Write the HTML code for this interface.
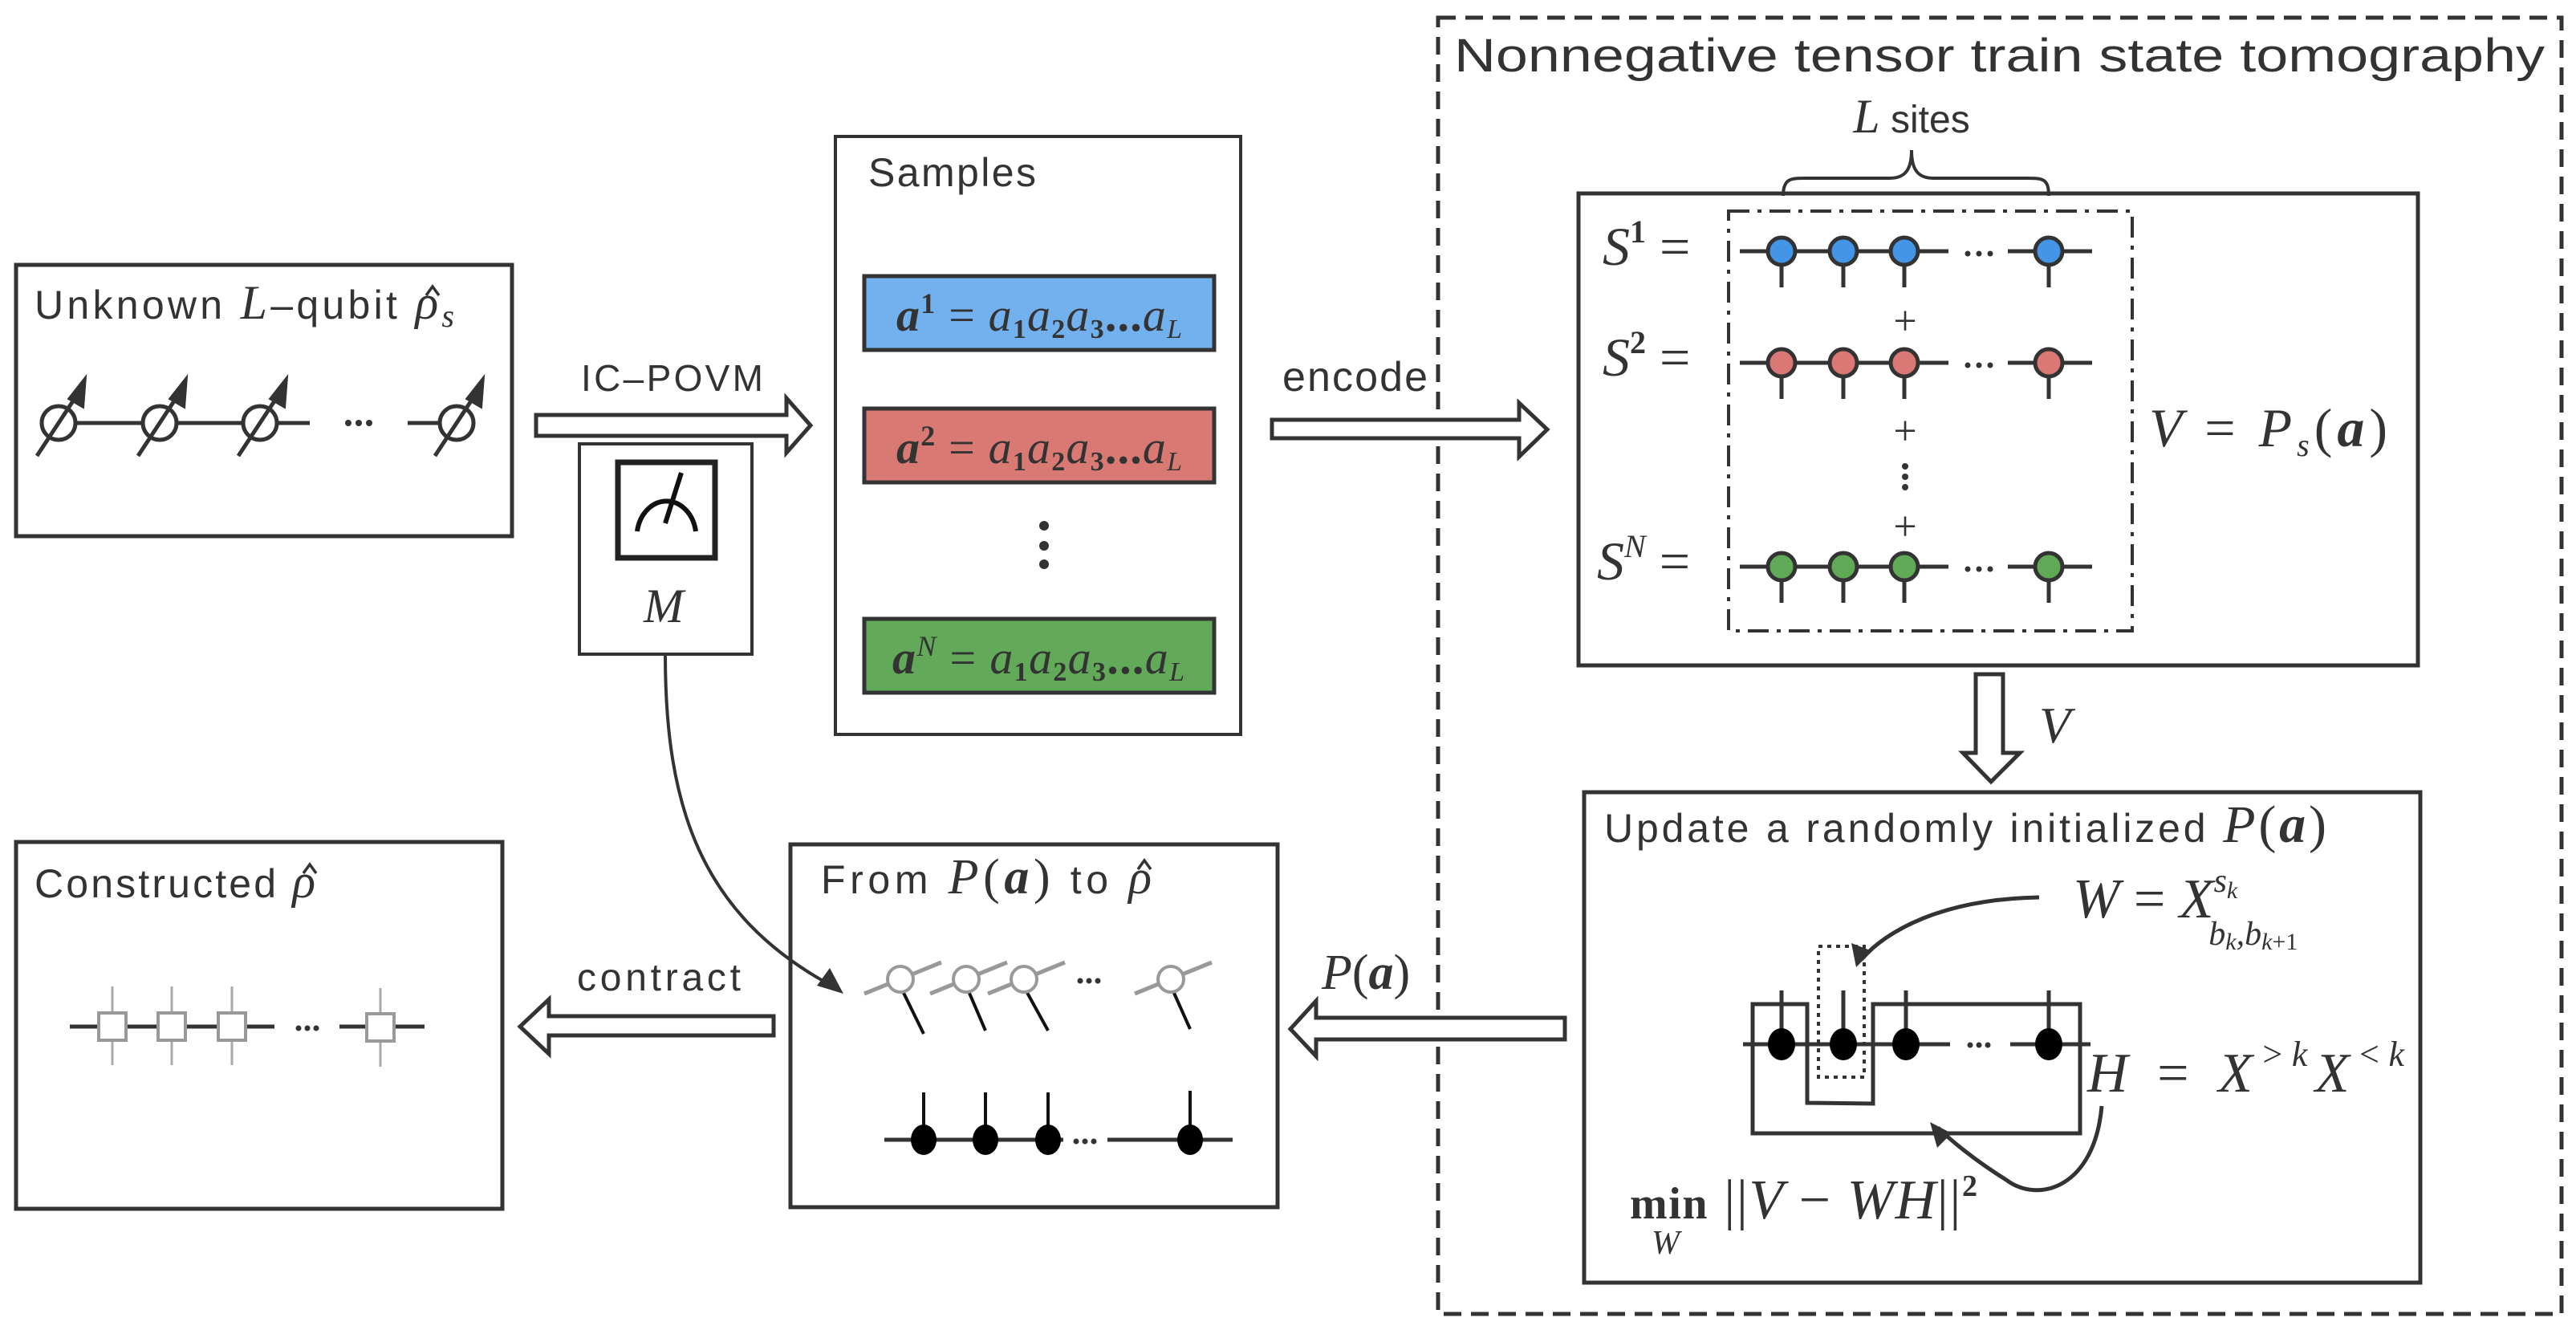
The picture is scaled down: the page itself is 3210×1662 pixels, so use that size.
<!DOCTYPE html>
<html><head><meta charset="utf-8"><style>
html,body{margin:0;padding:0;background:#fff;}
svg{display:block;}
.t{font-family:"Liberation Sans",sans-serif;fill:#333;}
.m{font-family:"Liberation Serif",serif;font-style:italic;fill:#333;}
.r{font-family:"Liberation Serif",serif;fill:#333;}
</style></head><body>
<svg width="3210" height="1662" viewBox="0 0 3210 1662" xmlns="http://www.w3.org/2000/svg">
<g fill="none" stroke="#333" stroke-width="5">
<rect x="1792" y="22" width="1400" height="1615" stroke-dasharray="22,12" stroke-width="5"/>
<rect x="20" y="330" width="618" height="338"/>
<rect x="722" y="553" width="215" height="262" stroke-width="4"/>
<rect x="1041" y="170" width="505" height="745" stroke-width="4"/>
<rect x="1967" y="241" width="1046" height="588"/>
<rect x="1974" y="987" width="1042" height="611"/>
<rect x="20" y="1049" width="606" height="457"/>
<rect x="985" y="1052" width="607" height="452"/>
<rect x="2154" y="263" width="503" height="523" stroke-width="4" stroke-dasharray="26,10,5,10"/>
</g>
<rect x="1077" y="344" width="436" height="92" fill="#72b0ee" stroke="#333" stroke-width="5"/>
<rect x="1077" y="509" width="436" height="92" fill="#d87a73" stroke="#333" stroke-width="5"/>
<rect x="1077" y="771" width="436" height="92" fill="#62aa5a" stroke="#333" stroke-width="5"/>
<g font-size="58">
<text x="1117" y="412" class="r" textLength="356" lengthAdjust="spacing"><tspan font-weight="bold" font-style="italic">a</tspan><tspan font-size="36" dy="-22" font-weight="bold">1</tspan><tspan dy="22"> = </tspan><tspan font-style="italic">a</tspan><tspan font-size="34" dy="9" font-weight="bold">1</tspan><tspan dy="-9" font-style="italic">a</tspan><tspan font-size="34" dy="9" font-weight="bold">2</tspan><tspan dy="-9" font-style="italic">a</tspan><tspan font-size="34" dy="9" font-weight="bold">3</tspan><tspan dy="-9" font-weight="bold">...</tspan><tspan font-style="italic">a</tspan><tspan font-size="34" dy="9" font-style="italic">L</tspan></text>
<text x="1117" y="577" class="r" textLength="356" lengthAdjust="spacing"><tspan font-weight="bold" font-style="italic">a</tspan><tspan font-size="36" dy="-22" font-weight="bold">2</tspan><tspan dy="22"> = </tspan><tspan font-style="italic">a</tspan><tspan font-size="34" dy="9" font-weight="bold">1</tspan><tspan dy="-9" font-style="italic">a</tspan><tspan font-size="34" dy="9" font-weight="bold">2</tspan><tspan dy="-9" font-style="italic">a</tspan><tspan font-size="34" dy="9" font-weight="bold">3</tspan><tspan dy="-9" font-weight="bold">...</tspan><tspan font-style="italic">a</tspan><tspan font-size="34" dy="9" font-style="italic">L</tspan></text>
<text x="1112" y="839" class="r" textLength="364" lengthAdjust="spacing"><tspan font-weight="bold" font-style="italic">a</tspan><tspan font-size="36" dy="-22" font-style="italic">N</tspan><tspan dy="22"> = </tspan><tspan font-style="italic">a</tspan><tspan font-size="34" dy="9" font-weight="bold">1</tspan><tspan dy="-9" font-style="italic">a</tspan><tspan font-size="34" dy="9" font-weight="bold">2</tspan><tspan dy="-9" font-style="italic">a</tspan><tspan font-size="34" dy="9" font-weight="bold">3</tspan><tspan dy="-9" font-weight="bold">...</tspan><tspan font-style="italic">a</tspan><tspan font-size="34" dy="9" font-style="italic">L</tspan></text>
</g>
<g fill="#333"><circle cx="1301" cy="655" r="6"/><circle cx="1301" cy="680" r="6"/><circle cx="1301" cy="703" r="6"/></g>

<!-- titles -->
<text x="1812" y="89" class="t" font-size="58" textLength="1359" lengthAdjust="spacingAndGlyphs">Nonnegative tensor train state tomography</text>
<text x="43" y="397" class="t" font-size="50" textLength="523" lengthAdjust="spacing">Unknown <tspan class="m" font-size="60">L</tspan>–qubit <tspan class="m" font-size="60">ρ</tspan><tspan class="m" font-size="40" dy="10">s</tspan></text>
<text x="1082" y="232" class="t" font-size="50" textLength="209" lengthAdjust="spacing">Samples</text>
<text x="43" y="1118" class="t" font-size="50" textLength="350" lengthAdjust="spacing">Constructed <tspan class="m" font-size="60">ρ</tspan></text>
<text x="1023" y="1113" class="t" font-size="50" textLength="412" lengthAdjust="spacing">From <tspan class="m" font-size="62">P</tspan><tspan class="r" font-size="62">(</tspan><tspan class="r" font-size="62" font-weight="bold" font-style="italic">a</tspan><tspan class="r" font-size="62">)</tspan> to <tspan class="m" font-size="60">ρ</tspan></text>
<text x="1999" y="1049" class="t" font-size="50" textLength="900" lengthAdjust="spacing">Update a randomly initialized <tspan class="m" font-size="66">P</tspan><tspan class="r" font-size="66">(</tspan><tspan class="r" font-size="66" font-weight="bold" font-style="italic">a</tspan><tspan class="r" font-size="66">)</tspan></text>
<text x="2382" y="165" class="t" font-size="48" text-anchor="middle"><tspan class="m" font-size="60">L</tspan> sites</text>
<!-- hats -->
<g fill="none" stroke="#333" stroke-width="3.5">
<path d="M531,368 L539,357 L547,368"/>
<path d="M378,1088 L386,1077 L394,1088"/>
<path d="M1418,1083 L1426,1072 L1434,1083"/>
</g>

<text x="724" y="487" class="t" font-size="46" textLength="227">IC–POVM</text>
<text x="1598" y="487" class="t" font-size="52" textLength="181">encode</text>
<text x="719" y="1234" class="t" font-size="48" textLength="204">contract</text>
<text x="1647" y="1232" class="m" font-size="62">P<tspan class="r" font-style="normal">(</tspan><tspan font-weight="bold">a</tspan><tspan class="r" font-style="normal">)</tspan></text>
<text x="2541" y="925" class="m" font-size="64">V</text>
<text x="827" y="775" class="m" font-size="60" text-anchor="middle">M</text>

<g fill="#fff" stroke="#333" stroke-width="5" stroke-linejoin="miter">
<path d="M668,517 L980,517 L980,496 L1010,530 L980,564 L980,543 L668,543 Z"/>
<path d="M1585,523 L1893,523 L1893,502 L1928,535 L1893,569 L1893,546 L1585,546 Z"/>
<path d="M2462,840 L2496,840 L2496,938 L2517,938 L2481,974 L2446,938 L2462,938 Z"/>
<path d="M1950,1268 L1950,1295 L1640,1295 L1640,1316 L1608,1282 L1640,1247 L1640,1268 Z"/>
<path d="M964,1266 L964,1290 L684,1290 L684,1313 L648,1279 L684,1245 L684,1266 Z"/>
</g>

<rect x="770" y="576" width="121" height="119" fill="none" stroke="#222" stroke-width="7"/>
<path d="M794,662 A37,45 0 0 1 867,662" fill="none" stroke="#111" stroke-width="6"/>
<line x1="829" y1="652" x2="849" y2="589" stroke="#111" stroke-width="6"/>

<path d="M829,815 C829,1000 870,1140 1040,1230" fill="none" stroke="#333" stroke-width="4"/>
<path d="M1051,1238 L1018,1228 L1034,1206 Z" fill="#333"/>

<g stroke="#333" stroke-width="5" fill="none">
<line x1="73" y1="527" x2="386" y2="527"/>
<line x1="508" y1="527" x2="560" y2="527"/>
</g>
<g fill="#333"><circle cx="434" cy="527" r="4"/><circle cx="447" cy="527" r="4"/><circle cx="460" cy="527" r="4"/></g>
<g id="spin" stroke="#333" stroke-width="5">
<circle cx="73" cy="527" r="21" fill="#fff"/>
<line x1="46" y1="568" x2="96" y2="492"/>
<path d="M107,469 L85,497 L104,508 Z" fill="#333" stroke-width="2"/>
</g>
<use href="#spin" x="126"/><use href="#spin" x="251"/><use href="#spin" x="496"/>

<g font-size="68" class="m">
<text x="1997" y="330">S<tspan class="r" font-style="normal" font-weight="bold" font-size="40" dy="-28">1</tspan><tspan class="r" font-style="normal" dy="28"> =</tspan></text>
<text x="1997" y="468">S<tspan class="r" font-style="normal" font-weight="bold" font-size="40" dy="-28">2</tspan><tspan class="r" font-style="normal" dy="28"> =</tspan></text>
<text x="1990" y="722">S<tspan font-size="40" dy="-28">N</tspan><tspan class="r" font-style="normal" dy="28"> =</tspan></text>
<text x="2678" y="556" textLength="297" lengthAdjust="spacing">V <tspan class="r" font-style="normal">=</tspan> P<tspan font-size="40" dy="12">s</tspan><tspan class="r" font-style="normal" dy="-12">(</tspan><tspan class="r" font-weight="bold">a</tspan><tspan class="r" font-style="normal">)</tspan></text>
</g>
<g class="r" font-size="52" text-anchor="middle">
<text x="2374" y="417">+</text><text x="2374" y="554">+</text><text x="2374" y="673">+</text>
</g>
<g fill="#333"><circle cx="2374" cy="581" r="4"/><circle cx="2374" cy="594" r="4"/><circle cx="2374" cy="607" r="4"/></g>
<path d="M2222,244 C2222,222 2232,222 2250,222 L2355,222 C2375,222 2382,210 2382,187 C2382,210 2389,222 2409,222 L2525,222 C2545,222 2553,222 2553,244" fill="none" stroke="#333" stroke-width="4"/>

<g id="row1">
<g stroke="#333" stroke-width="5">
<line x1="2168" y1="313" x2="2428" y2="313"/><line x1="2502" y1="313" x2="2607" y2="313"/>
<line x1="2220" y1="313" x2="2220" y2="358"/><line x1="2297" y1="313" x2="2297" y2="358"/>
<line x1="2373" y1="313" x2="2373" y2="358"/><line x1="2553" y1="313" x2="2553" y2="358"/>
</g>
<g fill="#333"><circle cx="2452" cy="316" r="3.5"/><circle cx="2466" cy="316" r="3.5"/><circle cx="2480" cy="316" r="3.5"/></g>
</g>
<use href="#row1" y="139"/><use href="#row1" y="393"/>
<g stroke="#333" stroke-width="5">
<g fill="#4495e8"><circle cx="2220" cy="313" r="17"/><circle cx="2297" cy="313" r="17"/><circle cx="2373" cy="313" r="17"/><circle cx="2553" cy="313" r="17"/></g>
<g fill="#d97874"><circle cx="2220" cy="452" r="17"/><circle cx="2297" cy="452" r="17"/><circle cx="2373" cy="452" r="17"/><circle cx="2553" cy="452" r="17"/></g>
<g fill="#5fa957"><circle cx="2220" cy="706" r="17"/><circle cx="2297" cy="706" r="17"/><circle cx="2373" cy="706" r="17"/><circle cx="2553" cy="706" r="17"/></g>
</g>

<g stroke="#333" stroke-width="5" fill="none">
<line x1="2172" y1="1301" x2="2430" y2="1301"/><line x1="2505" y1="1301" x2="2605" y2="1301"/>
<line x1="2220" y1="1234" x2="2220" y2="1301"/><line x1="2297" y1="1234" x2="2297" y2="1301"/>
<line x1="2375" y1="1234" x2="2375" y2="1301"/><line x1="2553" y1="1234" x2="2553" y2="1301"/>
<path d="M2184,1251 L2252,1251 L2252,1374 L2334,1375 L2334,1251 L2592,1251 L2592,1412 L2184,1412 Z"/>
<rect x="2266" y="1179" width="57" height="163" stroke-dasharray="5,6" stroke-width="4"/>
<path d="M2541,1118 C2420,1120 2350,1160 2320,1195"/>
<path d="M2619,1378 C2610,1480 2540,1500 2500,1470 C2460,1445 2430,1420 2415,1405"/>
</g>
<path d="M2313,1205 L2307,1175 L2333,1185 Z" fill="#333"/>
<path d="M2405,1398 L2432,1412 L2414,1430 Z" fill="#333"/>
<g fill="#000"><ellipse cx="2220" cy="1301" rx="17" ry="20"/><ellipse cx="2297" cy="1301" rx="17" ry="20"/><ellipse cx="2375" cy="1301" rx="17" ry="20"/><ellipse cx="2553" cy="1301" rx="17" ry="20"/></g>
<g fill="#333"><circle cx="2455" cy="1302" r="3.5"/><circle cx="2466" cy="1302" r="3.5"/><circle cx="2477" cy="1302" r="3.5"/></g>
<g class="m" font-size="70">
<text x="2583" y="1143">W <tspan class="r" font-style="normal">=</tspan> X<tspan font-size="42" dy="-32">s</tspan><tspan font-size="30" dy="8">k</tspan><tspan font-size="42" dx="-36" dy="58">b</tspan><tspan font-size="30" dy="6">k</tspan><tspan font-size="42" dy="-6">,b</tspan><tspan font-size="30" dy="6">k</tspan><tspan font-size="30" class="r" font-style="normal">+1</tspan></text>
<text x="2601" y="1360" textLength="395" lengthAdjust="spacing">H <tspan class="r" font-style="normal">=</tspan> X<tspan font-size="44" dy="-32">&gt;k</tspan><tspan dy="32">X</tspan><tspan font-size="44" dy="-32">&lt;k</tspan></text>
<text x="2031" y="1518" textLength="433" lengthAdjust="spacing"><tspan class="r" font-style="normal" font-weight="bold" font-size="56">min</tspan> <tspan class="r" font-style="normal">||</tspan>V <tspan class="r" font-style="normal">−</tspan> WH<tspan class="r" font-style="normal">||</tspan><tspan class="r" font-style="normal" font-weight="bold" font-size="38" dy="-28">2</tspan></text>
<text x="2058" y="1562" font-size="42">W</text>
</g>

<g stroke="#999" stroke-width="5">
<line x1="1077" y1="1238" x2="1173" y2="1199"/>
<line x1="1159" y1="1238" x2="1255" y2="1199"/>
<line x1="1231" y1="1238" x2="1327" y2="1199"/>
<line x1="1414" y1="1238" x2="1510" y2="1199"/>
</g>
<g stroke="#111" stroke-width="4">
<line x1="1125" y1="1235" x2="1151" y2="1288"/>
<line x1="1207" y1="1235" x2="1228" y2="1284"/>
<line x1="1279" y1="1235" x2="1306" y2="1284"/>
<line x1="1462" y1="1235" x2="1483" y2="1282"/>
</g>
<g fill="#fff" stroke="#999" stroke-width="4">
<circle cx="1122" cy="1220" r="16"/><circle cx="1204" cy="1220" r="16"/><circle cx="1276" cy="1220" r="16"/><circle cx="1459" cy="1220" r="16"/>
</g>
<g fill="#333"><circle cx="1346" cy="1222" r="3.5"/><circle cx="1357" cy="1222" r="3.5"/><circle cx="1368" cy="1222" r="3.5"/></g>
<g stroke="#333" stroke-width="5">
<line x1="1102" y1="1420" x2="1325" y2="1420"/><line x1="1380" y1="1420" x2="1536" y2="1420"/>
</g>
<g stroke="#111" stroke-width="4">
<line x1="1151" y1="1361" x2="1151" y2="1420"/><line x1="1228" y1="1361" x2="1228" y2="1420"/>
<line x1="1306" y1="1361" x2="1306" y2="1420"/><line x1="1483" y1="1359" x2="1483" y2="1420"/>
</g>
<g fill="#000"><ellipse cx="1151" cy="1420" rx="16" ry="19"/><ellipse cx="1228" cy="1420" rx="16" ry="19"/><ellipse cx="1306" cy="1420" rx="16" ry="19"/><ellipse cx="1483" cy="1420" rx="16" ry="19"/></g>
<g fill="#333"><circle cx="1341" cy="1422" r="3.5"/><circle cx="1352" cy="1422" r="3.5"/><circle cx="1363" cy="1422" r="3.5"/></g>

<g stroke="#333" stroke-width="5">
<line x1="87" y1="1279" x2="342" y2="1279"/><line x1="423" y1="1279" x2="529" y2="1279"/>
</g>
<g stroke="#aaa" stroke-width="3">
<line x1="140" y1="1229" x2="140" y2="1327"/><line x1="214" y1="1229" x2="214" y2="1327"/>
<line x1="289" y1="1229" x2="289" y2="1327"/><line x1="474" y1="1231" x2="474" y2="1329"/>
</g>
<g fill="#fff" stroke="#999" stroke-width="4">
<rect x="123" y="1262" width="34" height="34"/><rect x="197" y="1262" width="34" height="34"/>
<rect x="272" y="1262" width="34" height="34"/><rect x="457" y="1263" width="34" height="34"/>
</g>
<g fill="#333"><circle cx="372" cy="1281" r="3.5"/><circle cx="383" cy="1281" r="3.5"/><circle cx="394" cy="1281" r="3.5"/></g>
</svg>
</body></html>
